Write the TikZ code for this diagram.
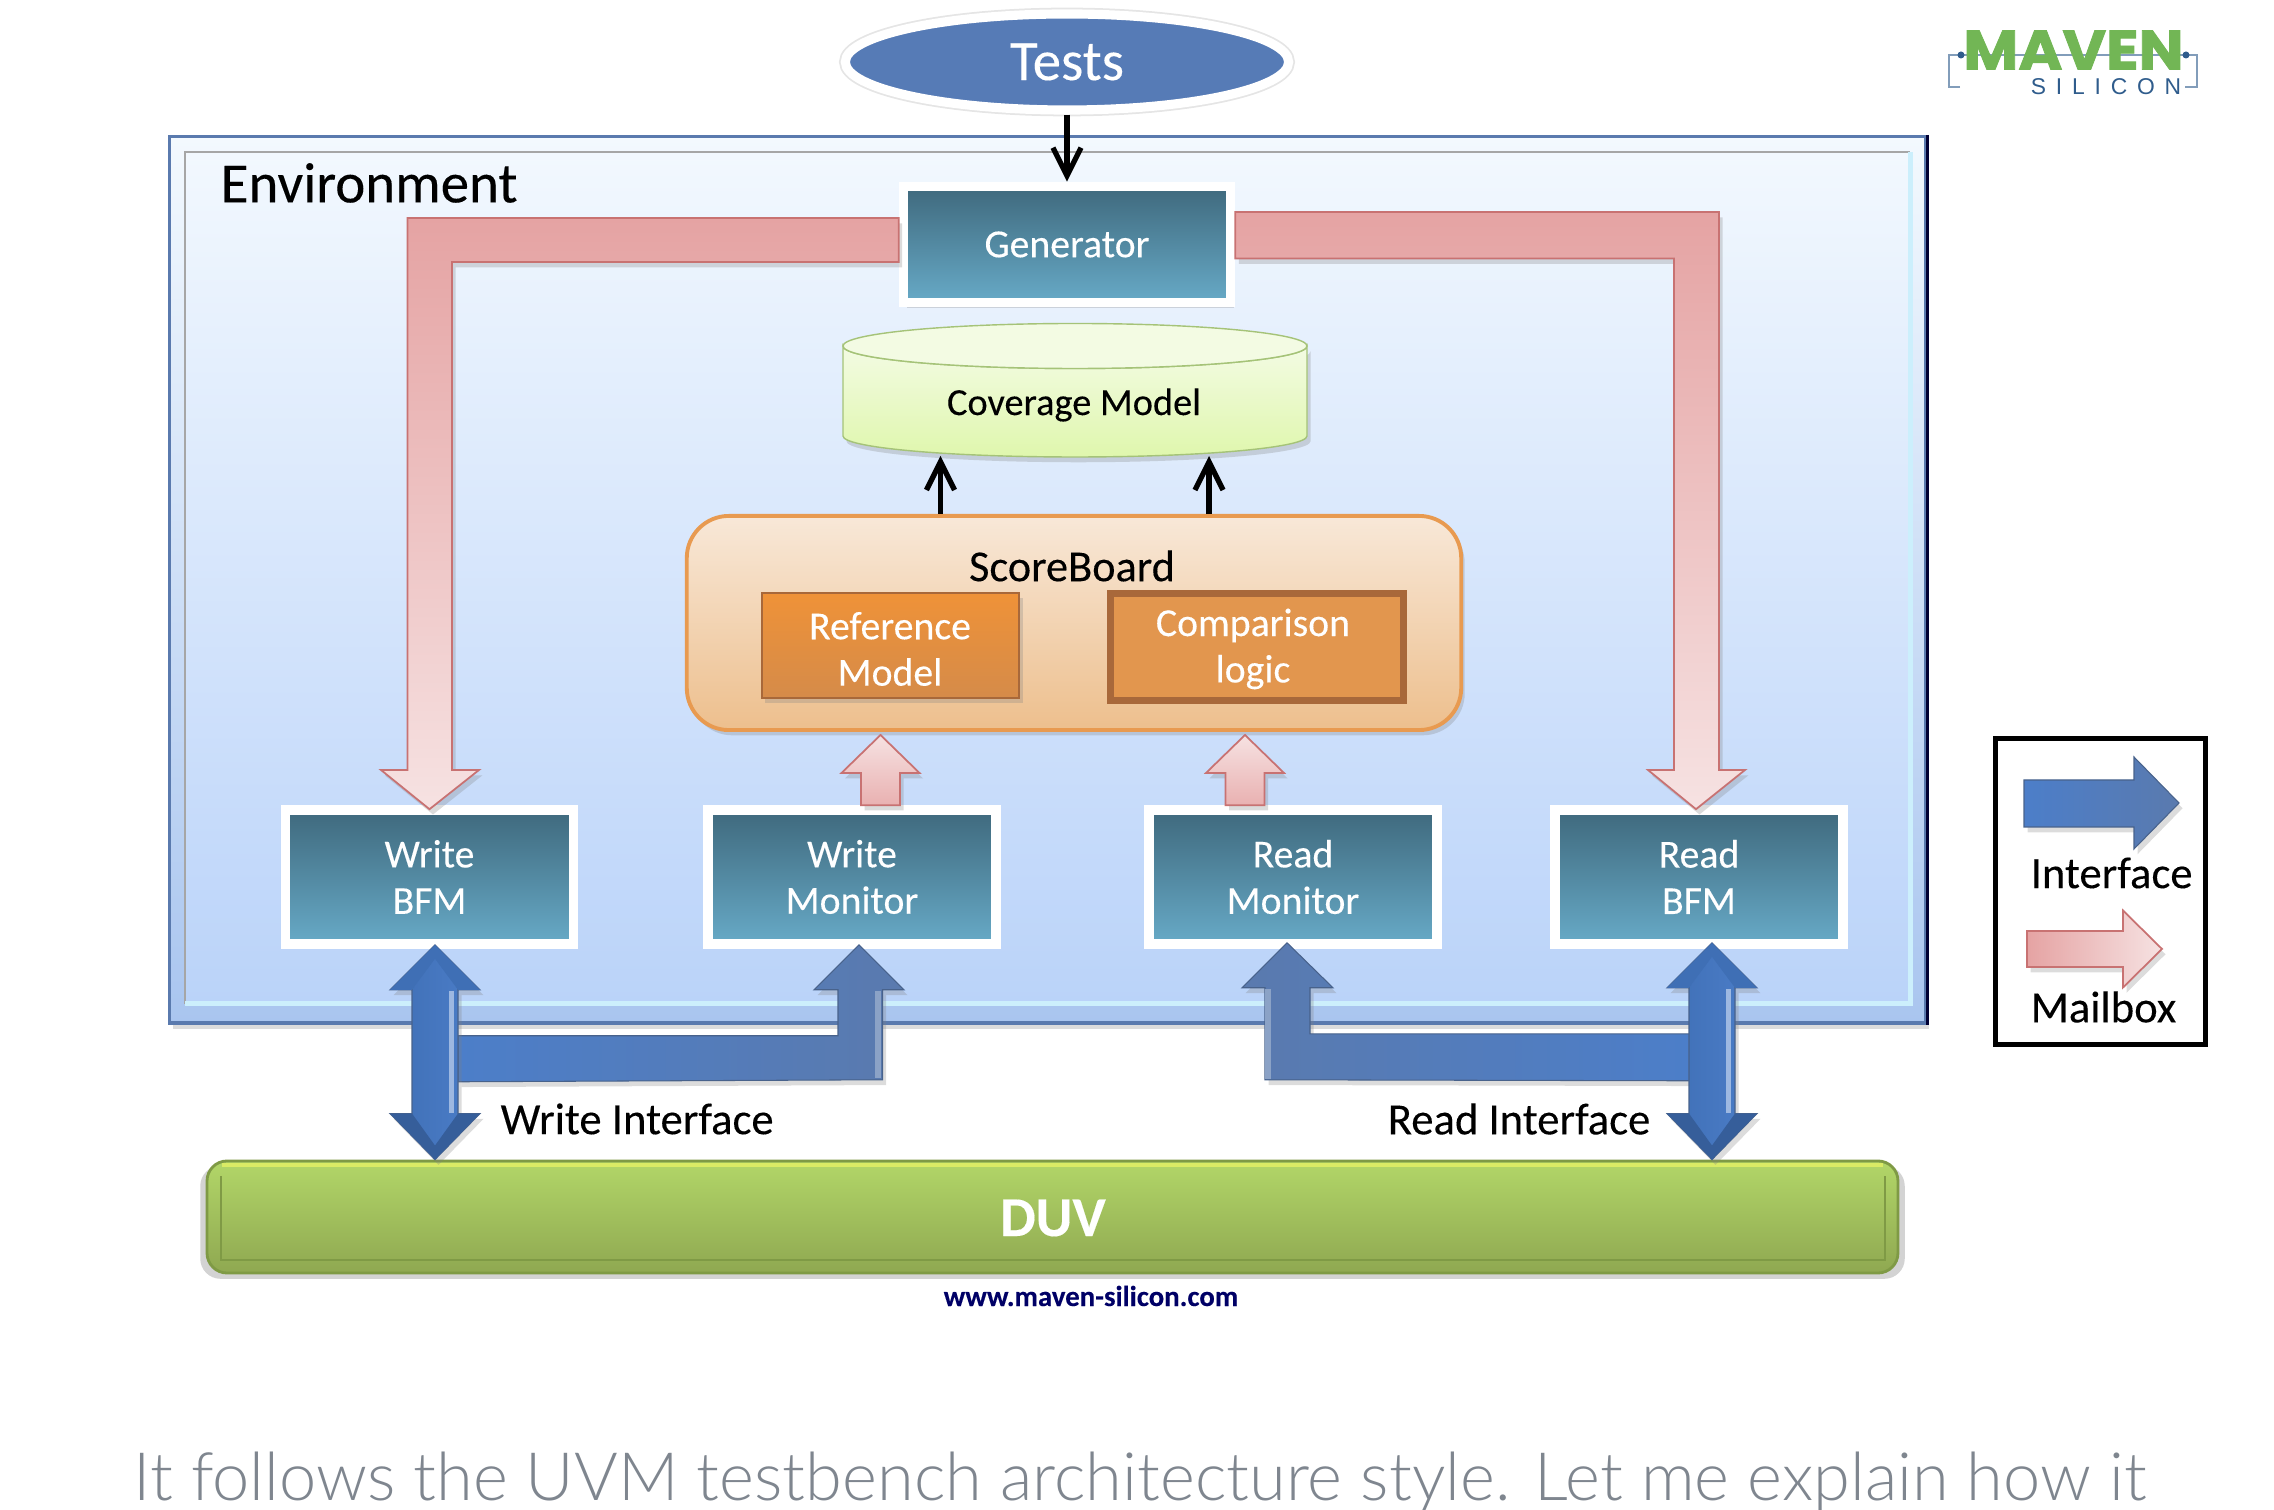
\documentclass[tikz,border=0pt]{standalone}
\usepackage{fontspec}
\usepackage{graphicx}
\setmainfont[FakeBold=0.2]{Carlito}
\newfontfamily\captionfont[UprightFont=* Light]{Lato}
\newfontfamily\logofont[FakeBold=1.5]{Poppins}
\newfontfamily\logosmall[LetterSpace=43]{Liberation Sans}
\usetikzlibrary{arrows.meta,calc,shapes.geometric,shadows}

\definecolor{envtop}{HTML}{F3F9FE}
\definecolor{envbot}{HTML}{A9C5EF}
\definecolor{paneltop}{HTML}{F2F8FE}
\definecolor{panelbot}{HTML}{BAD3F9}
\definecolor{blocktop}{HTML}{3F697D}
\definecolor{blockbot}{HTML}{67AAC7}
\definecolor{mailtop}{HTML}{E5A3A3}
\definecolor{mailbot}{HTML}{F6E2E2}
\definecolor{mailedge}{HTML}{C87272}
\definecolor{ifaceA}{HTML}{4C7EC9}
\definecolor{ifaceB}{HTML}{5A7AAE}
\definecolor{ifaceC}{HTML}{3F6FB5}
\definecolor{logogreen}{HTML}{72B655}
\definecolor{logoblue}{HTML}{2F5C8C}
\definecolor{covtop}{HTML}{F3FBE3}
\definecolor{covbot}{HTML}{DFF7AD}
\definecolor{covedge}{HTML}{A5C378}
\definecolor{sbtop}{HTML}{F8E8D8}
\definecolor{sbbot}{HTML}{EDBF8D}
\definecolor{sbedge}{HTML}{E89A50}
\definecolor{refedge}{HTML}{A8683A}
\definecolor{duvtop}{HTML}{B2D668}
\definecolor{duvbot}{HTML}{8FA851}
\definecolor{duvedge}{HTML}{7F9A45}
\definecolor{captiongray}{HTML}{7F868F}

\tikzset{
  flowarrow/.style={draw=black, line width=1.6pt, -{Straight Barb[length=8pt,width=8pt,line width=1.5pt]}},
  softshadow/.style={drop shadow={shadow xshift=1pt, shadow yshift=-1.5pt, opacity=.28}},
  blockbox/.style={rectangle, draw=white, line width=2.7pt, top color=blocktop, bottom color=blockbot,
    text=white, align=center, inner sep=0pt, font=\fontsize{11.3}{13.2}\selectfont, softshadow},
  sblabel/.style={inner sep=0pt, text=white, align=center, font=\fontsize{11.3}{13.2}\selectfont},
  mailbox/.style={draw=mailedge, line width=0.5pt, top color=mailtop, bottom color=mailbot, softshadow},
  mailstub/.style={draw=mailedge, line width=0.5pt, top color=mailbot, bottom color=mailtop!85, softshadow},
  ifacepath/.style={draw=ifaceB!80!black, line width=0.3pt, softshadow},
  labeltext/.style={inner sep=0pt, font=\fontsize{12.7}{14}\selectfont},
}

% block arrow pointing both ways, from tip to tip
\newcommand{\bothways}[2]{
  \path[ifacepath, left color=ifaceC, right color=ifaceA] (#1) -- ++(45,45) -- ++(-22,0) -- ($(#2)+(23,-46)$) -- ++(22,0) -- (#2)
    -- ++(-45,-46) -- ++(22,0) -- ($(#1)+(-23,45)$) -- ++(-22,0) -- cycle;
  \fill[ifaceC!85!black] (#2) -- ++(45,-46) -- ++(-22,0) -- ($(#2)+(0,-14)$) -- ++(-23,-32) -- ++(-22,0) -- cycle;
  \fill[ifaceC] (#1) -- ++(45,45) -- ++(-22,0) -- ($(#1)+(0,14)$) -- ++(-23,31) -- ++(-22,0) -- cycle;
  \fill[white!45!ifaceA] ($(#1)+(14,46)$) rectangle ($(#2)+(19,-47)$);
}
% small mailbox arrow standing on a block
\newcommand{\mailstem}[2]{
  \path[mailstub] (#1) -- ++(39,38) -- ++(-19.5,0) -- ($(#1 |- #2.north)+(19.5,0)$) -- ++(-39,0) -- ($(#1)+(-19.5,38)$) -- ++(-19.5,0) -- cycle;
}

\begin{document}
\begin{tikzpicture}[x=0.01cm, y=-0.01cm]
  \useasboundingbox (0,0) rectangle (2274,1510);

  % environment frame
  \node[rectangle, draw=ifaceB, line width=1pt, top color=envtop, bottom color=envbot, minimum width=17.55cm, minimum height=8.86cm, softshadow, inner sep=0pt] (env) at (1047.5,580) {};
  \node[rectangle, top color=paneltop, bottom color=panelbot, minimum width=17.23cm, minimum height=8.5cm, inner sep=0pt] (panel) at (1047.5,578) {};
  \draw[gray!70, line width=0.5pt] (panel.south west) -- (panel.north west) -- (panel.north east);
  \draw[white!80!cyan, line width=1.4pt] (panel.south west) -- (panel.south east) -- (panel.north east);
  \draw[black!80!blue, line width=1pt] (env.north east) -- (env.south east);
  \node[anchor=west, inner sep=0pt, font=\fontsize{16.2}{18}\selectfont] (envlabel) at (220,183) {Environment};

  \node[ellipse, draw=white, line width=2.6pt, fill=ifaceB!70!ifaceA, text=white, minimum width=4.43cm, minimum height=0.96cm, inner sep=0pt, font=\fontsize{16.2}{18}\selectfont, preaction={draw=gray!20, line width=3.6pt}] (tests) at (1067,62) {Tests};
  \node[blockbox, minimum width=3.27cm, minimum height=1.16cm] (gen) at (1067,244.5) {Generator};

  % coverage model
  \path[draw=covedge, line width=0.4pt, top color=covtop, bottom color=covbot, softshadow] (843,346) -- (843,436) arc[start angle=180, end angle=0, x radius=232, y radius=21] -- (1307,346) arc[start angle=0, end angle=180, x radius=232, y radius=22.5] -- cycle;
  \draw[covedge, line width=0.4pt, fill=covtop] (1075,346) ellipse[x radius=232, y radius=22.5];
  \node[inner sep=0pt, font=\fontsize{10.9}{12}\selectfont] (cov) at (1074,405) {Coverage Model};
  \coordinate (covl) at (940.5,456);
  \coordinate (covr) at (1209,456);

  % scoreboard
  \node[rectangle, rounded corners=0.42cm, draw=sbedge, line width=1.1pt, top color=sbtop, bottom color=sbbot, minimum width=7.74cm, minimum height=2.14cm, softshadow, inner sep=0pt] (score) at (1074,623) {};
  \node[labeltext, font=\fontsize{12.6}{14}\selectfont] (sbtitle) at (1072,566) {ScoreBoard};
  \node[rectangle, draw=refedge, line width=0.8pt, top color=orange!30!sbedge, bottom color=sbedge!70!refedge, minimum width=2.57cm, minimum height=1.05cm, inner sep=0pt, softshadow] (refmodel) at (890.5,645.5) {};
  \node[sblabel] (reflabel) at (890,649) {Reference\\Model};
  \node[rectangle, draw=refedge, line width=2pt, fill=sbedge!85!brown, minimum width=2.93cm, minimum height=1.07cm, inner sep=0pt] (cmplogic) at (1257,647) {};
  \node[sblabel] (cmplabel) at (1253,649) {Comparison\\logic};

  \draw[flowarrow] (tests) -- (gen);
  \draw[flowarrow] (covl |- score.north) -- (covl);
  \draw[flowarrow] (covr |- score.north) -- (covr);

  % bfm and monitor blocks
  \node[blockbox, minimum width=2.88cm, minimum height=1.34cm] (wbfm) at (429.5,877) {Write\\BFM};
  \node[blockbox, minimum width=2.88cm, minimum height=1.34cm] (wmon) at (852,877) {Write\\Monitor};
  \node[blockbox, minimum width=2.88cm, minimum height=1.34cm] (rmon) at (1293,877) {Read\\Monitor};
  \node[blockbox, minimum width=2.88cm, minimum height=1.34cm] (rbfm) at (1699,877) {Read\\BFM};

  % duv
  \node[rectangle, rounded corners=0.2cm, draw=duvedge, line width=0.8pt, top color=duvtop, bottom color=duvbot, minimum width=16.9cm, minimum height=1.12cm, inner sep=0pt, drop shadow={shadow scale=1.008, shadow xshift=0pt, shadow yshift=-1.5pt, opacity=.35}] (duv) at (1052.5,1217) {};
  \draw[duvedge, line width=0.3pt] (221,1176) -- (221,1260) -- (1885,1260) -- (1885,1176);
  \draw[duvtop!60!yellow!80!white, line width=1.2pt] (222,1165) -- (1883,1165);
  \node[inner sep=0pt, text=white, font=\bfseries\fontsize{16}{18}\selectfont] (duvlabel) at (1053,1218) {DUV};
  \node[inner sep=0pt, text=blue!40!black, font=\bfseries\fontsize{8.2}{9}\selectfont] (website) at (1091,1296) {www.maven-silicon.com};

  % mailbox paths from the generator
  \path[mailbox] ($(gen.west)+(0,-26.5)$) -- (407.5,218) -- (407.5,770) -- (381,770) -- ($(wbfm.north)+(0,4)$) -- (479,770) -- (452,770) -- (452,262) -- ($(gen.west)+(0,17.5)$) -- cycle;
  \path[mailbox] ($(gen.east)+(0,-32.5)$) -- (1719,212) -- (1719,770) -- (1745,770) -- ($(rbfm.north)+(-3,4)$) -- (1648,770) -- (1674,770) -- (1674,258.5) -- ($(gen.east)+(0,14)$) -- cycle;
  \coordinate (wmtip) at (880.5,735);
  \coordinate (rmtip) at (1245,735);
  \mailstem{wmtip}{wmon}
  \mailstem{rmtip}{rmon}

  % interface paths to the duv
  \coordinate (wbtip) at ($(wbfm.south)+(5.5,-4)$);
  \coordinate (wmbtip) at ($(wmon.south)+(7,-4)$);
  \coordinate (rmbtip) at ($(rmon.south)+(-6,-6)$);
  \coordinate (rbtip) at ($(rbfm.south)+(13,-6)$);
  \coordinate (wdtip) at (wbtip |- duv.north);
  \coordinate (rdtip) at (rbtip |- duv.north);
  \path[ifacepath, left color=ifaceA, right color=ifaceB] ($(wbtip)+(23,91)$) -- ($(wmbtip)+(-21,91)$) -- ++(0,-46) -- ++(-24,0) -- (wmbtip) -- ++(45,45) -- ++(-21.5,0) -- ++(0,90) -- ($(wbtip)+(23,137)$) -- cycle;
  \fill[white!30!ifaceB] ($(wmbtip)+(16,46)$) rectangle ($(wmbtip)+(22,133)$);
  \path[ifacepath, left color=ifaceB, right color=ifaceA] ($(rbtip)+(-22,91)$) -- ($(rmbtip)+(23,91)$) -- ++(0,-46) -- ++(23,0) -- (rmbtip) -- ++(-45,45) -- ++(23,0) -- ++(0,92) -- ($(rbtip)+(-22,138)$) -- cycle;
  \fill[white!30!ifaceB] ($(rmbtip)+(-22,46)$) rectangle ($(rmbtip)+(-16,136)$);
  \bothways{wbtip}{wdtip}
  \bothways{rbtip}{rdtip}
  \node[labeltext, anchor=west] (wifc) at (500,1119) {Write Interface};
  \node[labeltext, anchor=east] (rifc) at (1651,1119) {Read Interface};

  % legend
  \node[rectangle, draw=black, line width=1.4pt, minimum width=2.1cm, minimum height=3.06cm, inner sep=0pt] (legend) at (2100.5,891.5) {};
  \path[ifacepath, left color=ifaceA, right color=ifaceB] (2024,780) -- (2134,780) -- (2134,757) -- (2179,803) -- (2134,849) -- (2134,827) -- (2024,827) -- cycle;
  \node[labeltext, anchor=west] (legiface) at (2030,873) {Interface};
  \path[draw=mailedge, line width=0.5pt, left color=mailtop, right color=mailbot, softshadow] (2027,931) -- (2123,931) -- (2123,910.5) -- (2162,949) -- (2123,987.5) -- (2123,967) -- (2027,967) -- cycle;
  \node[labeltext, anchor=west] (legmail) at (2030,1007) {Mailbox};

  % logo
  \draw[logoblue!60!white, line width=0.4pt] (1960,87) -- (1949,87) -- (1949,55) -- (2197,55) -- (2197,87) -- (2185,87);
  \fill[logoblue] (1961,55) circle[radius=3.5];
  \fill[logoblue] (2186,55) circle[radius=3.5];
  \node[inner sep=0pt, text=logogreen] (logotext) at (2073.5,50) {\resizebox{2.2cm}{0.39cm}{\logofont\bfseries MAVEN}};
  \node[inner sep=0pt, text=logoblue, font=\logosmall\fontsize{6.5}{7}\selectfont] (logosub) at (2106,87) {SILICON};

  \node[inner sep=0pt, text=captiongray, font=\captionfont\fontsize{18.97}{22}\selectfont] (caption) at (1140,1482) {It follows the UVM testbench architecture style. Let me explain how it};
\end{tikzpicture}
\end{document}
